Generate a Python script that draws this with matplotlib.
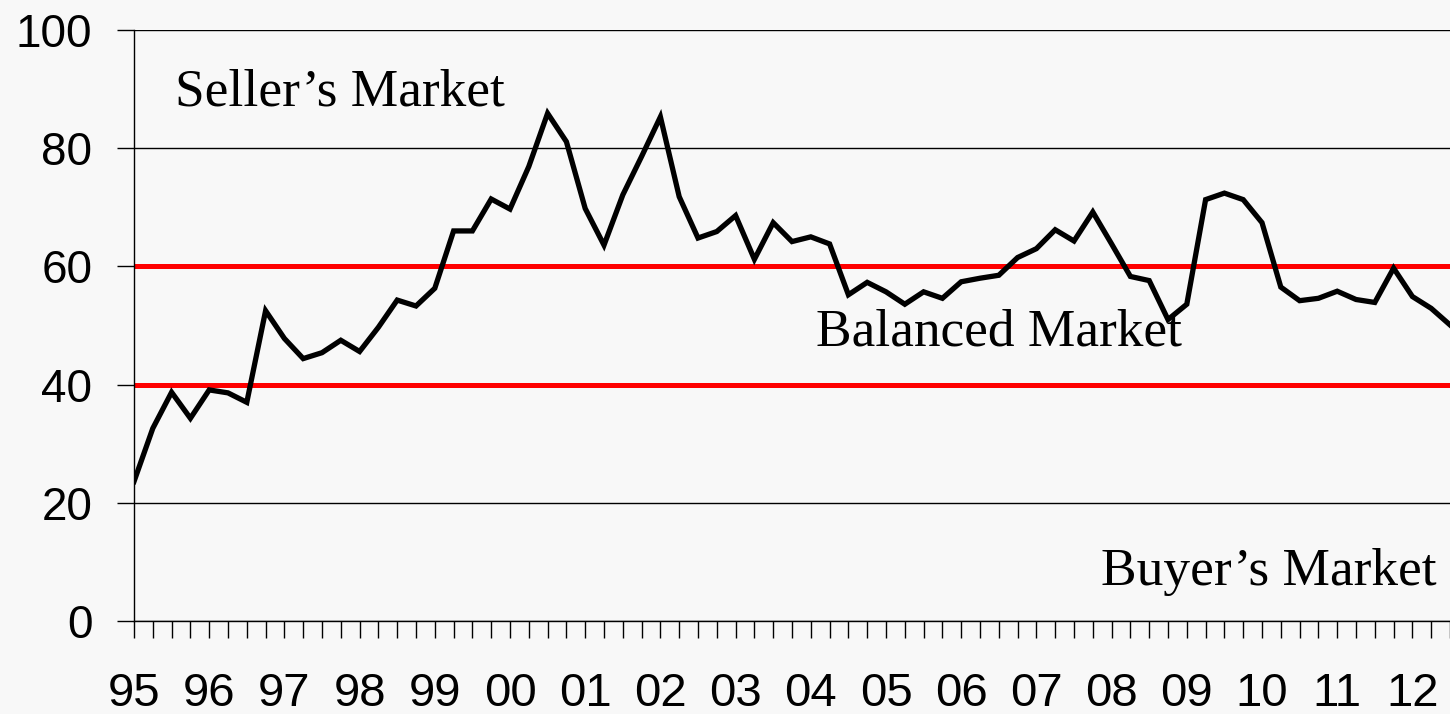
import numpy as np
import matplotlib
matplotlib.use('Agg')
import matplotlib.pyplot as plt

# quarterly index, 1995 Q1 onward
quarterIdx = np.arange(71)
marketIndex = [23.6, 32.6, 38.7, 34.3, 39.1, 38.6, 37.0, 52.5, 47.8, 44.4,
               45.4, 47.5, 45.6, 49.7, 54.3, 53.3, 56.3, 66.0, 66.0, 71.4,
               69.7, 76.9, 85.9, 81.1, 69.8, 63.6, 72.1, 78.6, 85.3, 71.8,
               64.8, 65.9, 68.6, 61.2, 67.4, 64.2, 65.0, 63.8, 55.2, 57.3,
               55.7, 53.6, 55.7, 54.6, 57.4, 58.0, 58.5, 61.5, 63.0, 66.2,
               64.3, 69.2, 63.8, 58.3, 57.6, 51.0, 53.6, 71.3, 72.4, 71.3,
               67.4, 56.5, 54.2, 54.6, 55.8, 54.4, 53.9, 59.7, 54.9, 52.9,
               50.1]
yearLabels = ['95', '96', '97', '98', '99', '00', '01', '02', '03',
              '04', '05', '06', '07', '08', '09', '10', '11', '12']
bandLevels = [40, 60]
yTicks = [0, 20, 40, 60, 80, 100]

bg = '#f8f8f8'
fig = plt.figure(figsize=(14.5, 7.14), dpi=100, facecolor=bg)
ax = fig.add_axes([134 / 1450, 1 - 621 / 714, 1 - 134 / 1450, (621 - 30) / 714])
ax.set_facecolor(bg)

ax.set_ylim(0, 100)
ax.set_xlim(0, (1450 - 134) / 18.94)

ax.set_yticks(yTicks)
ax.set_yticklabels([str(v) for v in yTicks], fontsize=33, family='Liberation Sans')
ax.yaxis.grid(True, color='black', linewidth=1.0)
ax.set_axisbelow(True)

ax.set_xticks(range(0, 4 * len(yearLabels), 4))
ax.set_xticklabels(yearLabels, fontsize=34, family='Liberation Sans')
ax.set_xticks(range(0, 71), minor=True)
ax.tick_params(axis='x', which='both', direction='out', length=12, width=1, color='black')
ax.tick_params(axis='x', which='major', pad=25)
ax.tick_params(axis='y', direction='out', length=12, width=1, pad=18)

for side in ['top', 'right']:
    ax.spines[side].set_visible(False)
for side in ['left', 'bottom']:
    ax.spines[side].set_linewidth(1.0)
    ax.spines[side].set_color('black')

for lvl in bandLevels:
    ax.axhline(lvl, color='#ff0000', linewidth=3.6, zorder=2)

ax.plot(quarterIdx, marketIndex, color='black', linewidth=3.8, zorder=3,
        solid_joinstyle='miter')

serif = 'Liberation Serif'
ax.text(2.2, 87.3, 'Seller\u2019s Market', fontsize=38.4, family=serif, va='baseline', ha='left')
ax.text(36.27, 46.7, 'Balanced Market', fontsize=38.4, family=serif, va='baseline', ha='left', zorder=4)
ax.text(51.46, 6.1, 'Buyer\u2019s Market', fontsize=38.4, family=serif, va='baseline', ha='left')

plt.savefig('out.png', dpi=100, facecolor=bg)
